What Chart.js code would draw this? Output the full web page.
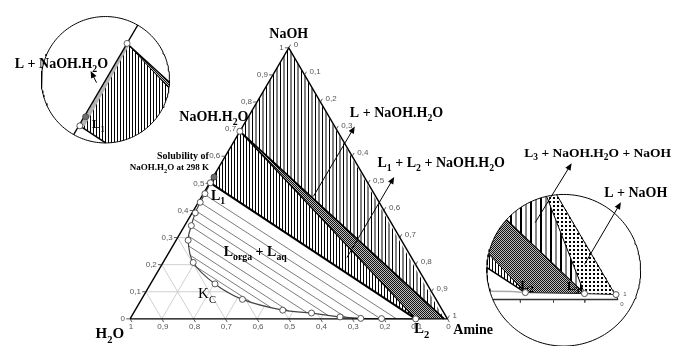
<!DOCTYPE html>
<html><head><meta charset="utf-8">
<script src="https://cdn.jsdelivr.net/npm/chart.js@4.4.1/dist/chart.umd.min.js"></script>
<style>html,body{margin:0;padding:0;background:#fff;}#wrap{width:680px;height:351px;position:relative;}</style>
</head><body><div id="wrap"><canvas id="c" width="680" height="351"></canvas></div>
<script>
// ---------- DATA (mass fractions: NaOH, Amine; water = 1 - NaOH - Amine) ----------
const BINODAL_NAOH  = [0.502,0.462,0.430,0.391,0.344,0.290,0.208,0.129,0.072,0.032,0.0215,0.0072,0.0018,0.001,0.0];
const BINODAL_AMINE = [0.002,0.005,0.006,0.010,0.021,0.038,0.095,0.203,0.318,0.465,0.561,0.658,0.726,0.792,0.900];
const TIE_LEFT_NAOH   = [0.459,0.430,0.398,0.369,0.341,0.305,0.269,0.233,0.197];
const TIE_LEFT_AMINE  = [0.005,0.005,0.009,0.014,0.022,0.032,0.050,0.075,0.103];
const TIE_RIGHT_NAOH  = [0.001,0.001,0.0014,0.005,0.0125,0.023,0.029,0.042,0.063];
const TIE_RIGHT_AMINE = [0.838,0.788,0.732,0.678,0.618,0.546,0.485,0.423,0.348];
const POINT_NAMES = ['L1','NaOH.H2O','Solubility','L2','L3','NaOH','Amine','H2O'];
const POINT_NAOH  = [0.502,0.692,0.523,0.0,0.0,1.0,0.0,0.0];
const POINT_AMINE = [0.002,0.0,0.003,0.900,0.990,0.0,1.0,0.0];
// magnified amine-corner inset
const INSET_NAMES = ['L2','L3','Amine','Edge'];
const INSET_NAOH  = [0.0087,0.0074,0.0062,0.203];
const INSET_AMINE = [0.895,0.960,0.9948,0.797];
const INSET_BIN_NAOH  = [0.0112,0.0100];
const INSET_BIN_AMINE = [0.780,0.880];
const INSET_TICK_AMINE = [0.894,0.930,0.964];
// magnified NaOH.H2O inset: liquid strip edge
const STRIP_NAOH  = [0.502,0.692];
const STRIP_AMINE = [0.012,0.006];
const TICK_VALUES = [0,0.1,0.2,0.3,0.4,0.5,0.6,0.7,0.8,0.9,1];
const TICK_LABELS = ['0','0,1','0,2','0,3','0,4','0,5','0,6','0,7','0,8','0,9','1'];

// ---------- LAYOUT ----------
const VIEW = {xmin:-0.3944, xmax:1.7174, ymin:-0.0870, ymax:1.0031};
const S3 = Math.sqrt(3)/2;
const T = (n,a) => ({x:a+n/2, y:n*S3});
const P = {}; POINT_NAMES.forEach((k,i)=>P[k]=T(POINT_NAOH[i],POINT_AMINE[i]));
const IP = {}; INSET_NAMES.forEach((k,i)=>IP[k]=T(INSET_NAOH[i],INSET_AMINE[i]));
const LEFT_INSET  = {c:{x:-0.0776,y:0.764}, r:0.2019, m:1.6,
  focus:{x:(P.L1.x+P['NaOH.H2O'].x)/2, y:(P.L1.y+P['NaOH.H2O'].y)/2}, target:{x:-0.0839,y:0.7484}};
const RIGHT_INSET = {c:{x:1.3665,y:0.1553}, r:0.2422, m:2.9, focus:{x:1,y:0}, target:{x:1.5373,y:0.0621}};

const LABELS = [
 {t:['NaOH'], x:0.5, y:0.8975, size:14, align:'center'},
 {t:['NaOH.H',['2'],'O'], x:0.1553, y:0.6335, size:14},
 {t:['L + NaOH.H',['2'],'O'], x:0.6925, y:0.646, size:14},
 {t:['L',['1'],' + L',['2'],' + NaOH.H',['2'],'O'], x:0.7795, y:0.4845, size:14},
 {t:['L',['3'],' + NaOH.H',['2'],'O + NaOH'], x:1.2422, y:0.5186, size:13.5},
 {t:['L + NaOH'], x:1.4938, y:0.3882, size:14},
 {t:['Solubility of'], x:0.2484, y:0.5093, size:10, align:'right'},
 {t:['NaOH.H',['2'],'O at 298 K'], x:0.2484, y:0.4752, size:9, align:'right'},
 {t:['L',['1']], x:0.2547, y:0.3789, size:14},
 {t:['L',['orga'],' + L',['aq']], x:0.295, y:0.2019, size:14},
 {t:['K',['C']], x:0.2143, y:0.0652, size:15, bold:false},
 {t:['L',['2']], x:0.8944, y:-0.0466, size:15},
 {t:['H',['2'],'O'], x:-0.1087, y:-0.0621, size:15},
 {t:['Amine'], x:1.0186, y:-0.0497, size:14},
 {t:['L + NaOH.H',['2'],'O'], x:-0.3634, y:0.8012, size:14},
 {t:['L',['1']], x:-0.1211, y:0.6087, size:13},
 {t:['L',['2']], x:1.2298, y:0.0963, size:13},
 {t:['L',['3']], x:1.3758, y:0.0932, size:13}
];
const SMALL_LABELS = [
 {t:'1', x:1.5590, y:0.0776},
 {t:'0', x:1.5500, y:0.0450}
];
const ARROWS = [
 {from:{x:0.5776,y:0.3913}, to:{x:0.7081,y:0.6149}},
 {from:{x:0.6832,y:0.1957}, to:{x:0.8323,y:0.4534}},
 {from:{x:1.2764,y:0.3075}, to:{x:1.3913,y:0.4969}},
 {from:{x:1.4317,y:0.1739}, to:{x:1.5466,y:0.3727}},
 {from:{x:-0.1056,y:0.7547}, to:{x:-0.1242,y:0.7919}}
];

// ---------- PATTERNS ----------
const ctx0 = document.getElementById('c').getContext('2d');
function pat(w,h,draw){const c=document.createElement('canvas');c.width=w;c.height=h;const g=c.getContext('2d');g.fillStyle='#fff';g.fillRect(0,0,w,h);draw(g);return ctx0.createPattern(c,'repeat');}
const DENSE  = pat(3,1,g=>{g.fillStyle='#000';g.fillRect(0,0,1,1);});
const SPARSE = pat(7,1,g=>{g.fillStyle='#000';g.fillRect(0,0,1,1);g.fillStyle='#808080';g.fillRect(3,0,2,1);});
const SPARSE2= pat(10,1,g=>{g.fillStyle='#000';g.fillRect(0,0,2,1);g.fillStyle='#888';g.fillRect(5,0,2,1);});
const CROSS  = pat(2,2,g=>{g.fillStyle='#bdbdbd';g.fillRect(0,0,2,2);g.fillStyle='#111';g.fillRect(0,0,1,1);g.fillRect(1,1,1,1);});
const DOTS   = pat(4,4,g=>{g.fillStyle='#000';g.fillRect(1,1,2,2);});

// ---------- GEOMETRY HELPERS ----------
function mapI(I,p){return {x:I.target.x+I.m*(p.x-I.focus.x), y:I.target.y+I.m*(p.y-I.focus.y)};}
function circlePoly(c,r,N){N=N||180;const o=[];for(let i=0;i<N;i++){const t=2*Math.PI*i/N;o.push({x:c.x+r*Math.cos(t),y:c.y+r*Math.sin(t)});}return o;}
function clipPoly(subject,clip){
  let out=subject;
  for(let i=0;i<clip.length;i++){
    const a=clip[i],b=clip[(i+1)%clip.length];const inp=out;out=[];if(!inp.length)break;
    const ins=p=>(b.x-a.x)*(p.y-a.y)-(b.y-a.y)*(p.x-a.x)>=0;
    const inter=(p,q)=>{const A1=q.y-p.y,B1=p.x-q.x,C1=A1*p.x+B1*p.y;const A2=b.y-a.y,B2=a.x-b.x,C2=A2*a.x+B2*a.y;const d=A1*B2-A2*B1;return {x:(B2*C1-B1*C2)/d,y:(A1*C2-A2*C1)/d};};
    for(let j=0;j<inp.length;j++){const cur=inp[j],prev=inp[(j+inp.length-1)%inp.length];const ci=ins(cur),pi=ins(prev);
      if(ci){if(!pi)out.push(inter(prev,cur));out.push(cur);}else if(pi)out.push(inter(prev,cur));}
  }
  return out;
}
function clipSeg(p,q,c,r){const dx=q.x-p.x,dy=q.y-p.y,fx=p.x-c.x,fy=p.y-c.y;const A=dx*dx+dy*dy,B=2*(fx*dx+fy*dy),C=fx*fx+fy*fy-r*r;const D=B*B-4*A*C;if(D<=0)return null;const s=Math.sqrt(D);let t0=Math.max((-B-s)/(2*A),0),t1=Math.min((-B+s)/(2*A),1);if(t0>=t1)return null;return [{x:p.x+t0*dx,y:p.y+t0*dy},{x:p.x+t1*dx,y:p.y+t1*dy}];}

// ---------- DATASETS ----------
const sets=[];
const NOC='rgba(0,0,0,0)';
function poly(pts,bg){sets.push({data:pts.concat([pts[0]]),showLine:true,fill:'shape',backgroundColor:bg,borderColor:NOC,borderWidth:0.01,pointRadius:0,tension:0});}
function line(pts,color,w,tension){sets.push({data:pts,showLine:true,fill:false,borderColor:color,borderWidth:w,pointRadius:0,tension:tension||0,spanGaps:false});}
function markers(pts,fill,border){sets.push({data:pts,showLine:false,fill:false,pointRadius:3,pointBackgroundColor:fill,pointBorderColor:border,pointBorderWidth:0.9,borderColor:border});}
const GAP={x:NaN,y:NaN};

// grid
const grid=[];
for(let k=1;k<10;k++){const v=k/10;
  grid.push(T(v,0),T(v,1-v),GAP);
  grid.push(T(0,v),T(1-v,v),GAP);
  grid.push(T(0,1-v),T(1-v,0),GAP);}
line(grid,'#bbbbbb',0.7);
// two-phase region
const bin=BINODAL_NAOH.map((n,i)=>T(n,BINODAL_AMINE[i]));
poly(bin,'#fff');
const ties=[];
TIE_LEFT_NAOH.forEach((n,i)=>{ties.push(T(n,TIE_LEFT_AMINE[i]),T(TIE_RIGHT_NAOH[i],TIE_RIGHT_AMINE[i]),GAP);});
line(ties,'#5a5a5a',0.8);
line(bin,'#444',1.2,0.35);
// solid-liquid regions
poly([P.L1,P['NaOH.H2O'],P.L2],DENSE);
poly([P['NaOH.H2O'],P.L2,P.L3],CROSS);
poly([P['NaOH.H2O'],P.L3,P.NaOH],SPARSE);
line([P.L1,P.L2],'#000',2);
line([P['NaOH.H2O'],P.L2],'#000',1.3);
line([P['NaOH.H2O'],P.L3],'#000',1.8);
line([P.H2O,P.Amine,P.NaOH,P.H2O],'#000',1.4);
// ticks
const tk=[];
TICK_VALUES.forEach(v=>{const a=T(v,0);tk.push(a,{x:a.x-0.012,y:a.y},GAP);
  const b=T(1-v,v);tk.push(b,{x:b.x+0.006,y:b.y+0.0104},GAP);
  const c=T(0,v);tk.push(c,{x:c.x+0.006,y:c.y-0.0104},GAP);});
line(tk,'#333',0.8);
markers(bin,'#fff','#444');
markers([P['NaOH.H2O']],'#fff','#555');
markers([P.Solubility],'#6e6e6e','#444');

// ---------- LEFT INSET ----------
function insetPoly(I,pts,bg){const m=pts.map(p=>mapI(I,p));const cl=clipPoly(m,circlePoly(I.c,I.r));if(cl.length>2)poly(cl,bg);}
function insetLine(I,p,q,color,w){const s=clipSeg(mapI(I,p),mapI(I,q),I.c,I.r);if(s)line(s,color,w);}
function insetPath(I,pts,color,w){for(let i=0;i<pts.length-1;i++)insetLine(I,pts[i],pts[i+1],color,w);}
const circL=circlePoly(LEFT_INSET.c,LEFT_INSET.r);
poly(circL,'#fff');
insetPoly(LEFT_INSET,[P.L1,P['NaOH.H2O'],P.L2],DENSE);
insetPoly(LEFT_INSET,[P['NaOH.H2O'],P.L2,P.L3],CROSS);
const strip=[P['NaOH.H2O'],P.L1,T(STRIP_NAOH[0],STRIP_AMINE[0]),T(STRIP_NAOH[1],STRIP_AMINE[1])];
insetPoly(LEFT_INSET,strip,'#b4b4b4');
insetLine(LEFT_INSET,P.H2O,P.NaOH,'#000',1.3);
insetLine(LEFT_INSET,P.L1,P.L2,'#000',1.5);
insetLine(LEFT_INSET,P['NaOH.H2O'],P.L2,'#000',1);
insetLine(LEFT_INSET,P['NaOH.H2O'],P.L3,'#000',1.3);
markers([mapI(LEFT_INSET,P['NaOH.H2O'])],'#fff','#555');
markers([mapI(LEFT_INSET,P.Solubility)],'#6e6e6e','#444');
markers([mapI(LEFT_INSET,P.L1)],'#fff','#444');
line(circL.concat([circL[0]]),'#000',1);

// ---------- RIGHT INSET ----------
const circR=circlePoly(RIGHT_INSET.c,RIGHT_INSET.r);
poly(circR,'#fff');
insetPoly(RIGHT_INSET,[P.L1,P['NaOH.H2O'],IP.L2],DENSE);
insetPoly(RIGHT_INSET,[P['NaOH.H2O'],IP.L2,IP.L3],CROSS);
insetPoly(RIGHT_INSET,[P['NaOH.H2O'],IP.L3,IP.Edge,P.NaOH],SPARSE2);
insetPoly(RIGHT_INSET,[IP.L3,IP.Amine,IP.Edge],DOTS);
insetLine(RIGHT_INSET,P.H2O,P.Amine,'#333',1.5);
insetLine(RIGHT_INSET,P.Amine,P.NaOH,'#000',1);
const ibin=INSET_BIN_NAOH.map((n,i)=>T(n,INSET_BIN_AMINE[i])).concat([IP.L2]);
insetPath(RIGHT_INSET,ibin,'#aaa',1.5);
insetPath(RIGHT_INSET,[IP.L2,IP.L3,IP.Amine],'#222',1);
insetLine(RIGHT_INSET,P.L1,IP.L2,'#000',1.5);
insetLine(RIGHT_INSET,P['NaOH.H2O'],IP.L2,'#000',1);
insetLine(RIGHT_INSET,P['NaOH.H2O'],IP.L3,'#000',1.2);
insetLine(RIGHT_INSET,IP.L3,IP.Edge,'#000',1);
const itk=[];
INSET_TICK_AMINE.forEach(a=>{const p=mapI(RIGHT_INSET,T(0,a));itk.push(p,{x:p.x,y:p.y-0.01},GAP);});
line(itk,'#444',0.8);
markers([IP.L2,IP.L3,IP.Amine].map(p=>mapI(RIGHT_INSET,p)),'#fff','#444');
line(circR.concat([circR[0]]),'#000',1);

sets.forEach((d,i)=>{d.order=sets.length-i;});

// ---------- TEXT / ARROWS PLUGIN ----------
const SERIF='"Liberation Serif", "DejaVu Serif", serif';
function drawRich(ctx,segs,x,y,size,align,bold){
  const fw=bold===false?'':'bold ';
  const parts=segs.map(s=>Array.isArray(s)?{t:s[0],sub:true}:{t:s,sub:false});
  let w=0;parts.forEach(p=>{ctx.font=fw+(p.sub?size*0.7:size)+'px '+SERIF;p.w=ctx.measureText(p.t).width;w+=p.w;});
  let cx=x; if(align==='center')cx=x-w/2; else if(align==='right')cx=x-w;
  ctx.textBaseline='alphabetic';ctx.textAlign='left';ctx.fillStyle='#000';
  parts.forEach(p=>{ctx.font=fw+(p.sub?size*0.7:size)+'px '+SERIF;ctx.fillText(p.t,cx,y+(p.sub?size*0.28:0));cx+=p.w;});
}
const annot={id:'annot',afterDatasetsDraw(chart){
  const ctx=chart.ctx,xs=chart.scales.x,ys=chart.scales.y;
  const px=p=>[xs.getPixelForValue(p.x),ys.getPixelForValue(p.y)];
  ctx.save();
  ctx.font='8px "Liberation Sans", Arial, sans-serif';ctx.fillStyle='#555';ctx.textBaseline='middle';
  TICK_VALUES.forEach((v,k)=>{
    let [x,y]=px(T(v,0));ctx.textAlign='right';ctx.fillText(TICK_LABELS[k],x-5,y);
    [x,y]=px(T(1-v,v));ctx.textAlign='left';ctx.fillText(TICK_LABELS[k],x+5,y-3);
    [x,y]=px(T(0,v));ctx.textAlign='center';ctx.fillText(TICK_LABELS[10-k],x+1,y+8);
  });
  ctx.font='6px "Liberation Sans", Arial, sans-serif';ctx.textAlign='center';
  SMALL_LABELS.forEach(l=>{const [x,y]=px(l);ctx.fillText(l.t,x,y);});
  ctx.strokeStyle='#000';ctx.fillStyle='#000';ctx.lineWidth=1;
  ARROWS.forEach(a=>{const [x0,y0]=px(a.from),[x1,y1]=px(a.to);
    const ang=Math.atan2(y1-y0,x1-x0),L=7,W=3;
    ctx.beginPath();ctx.moveTo(x0,y0);ctx.lineTo(x1-Math.cos(ang)*L*0.8,y1-Math.sin(ang)*L*0.8);ctx.stroke();
    ctx.beginPath();ctx.moveTo(x1,y1);
    ctx.lineTo(x1-L*Math.cos(ang)+W*Math.sin(ang),y1-L*Math.sin(ang)-W*Math.cos(ang));
    ctx.lineTo(x1-L*Math.cos(ang)-W*Math.sin(ang),y1-L*Math.sin(ang)+W*Math.cos(ang));
    ctx.closePath();ctx.fill();});
  LABELS.forEach(l=>{const [x,y]=px(l);drawRich(ctx,l.t,x,y,l.size,l.align||'left',l.bold);});
  ctx.restore();
}};

new Chart(document.getElementById('c'),{
  type:'line',
  data:{datasets:sets},
  options:{responsive:false,animation:false,events:[],
    layout:{padding:0},
    plugins:{legend:{display:false},tooltip:{enabled:false}},
    scales:{x:{type:'linear',min:VIEW.xmin,max:VIEW.xmax,display:false},
            y:{type:'linear',min:VIEW.ymin,max:VIEW.ymax,display:false}}},
  plugins:[annot]
});
</script></body></html>
